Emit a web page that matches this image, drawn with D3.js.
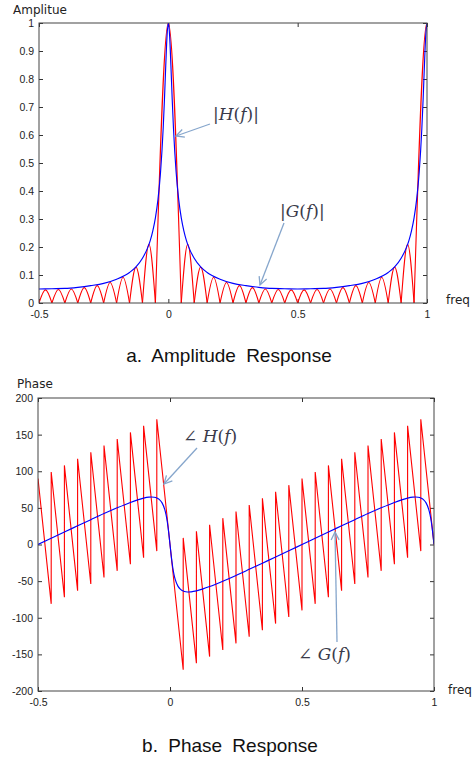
<!DOCTYPE html>
<meta charset="utf-8">
<title>Amplitude and Phase Response</title>
<style>
body { margin: 0; background: #fff; }
.axis text { font-family: "Liberation Sans", Arial, sans-serif; font-size: 10.5px; fill: #222; }
.axis line { stroke: #333; }
.frame { fill: none; stroke: #444; stroke-width: 1; }
.lab { font-family: "DejaVu Sans", Verdana, sans-serif; font-size: 12px; fill: #222; }
.cap { font-family: "Liberation Sans", Arial, sans-serif; font-size: 19px; fill: #111; word-spacing: 5px; }
.note { font-family: "DejaVu Serif", "Liberation Serif", serif; font-size: 17px; fill: #3a3a4a; }
.arrow { stroke: #86a6cc; stroke-width: 1.3; fill: none; }
</style>
<body>
<svg width="475" height="757"></svg>
<script src="https://d3js.org/d3.v7.min.js"></script>
<script>

// frequency grid for H(f)
var freq = [-0.5, -0.45, -0.4, -0.35, -0.3, -0.25, -0.2, -0.15, -0.125, -0.1, -0.08, -0.07, -0.06, -0.05, -0.04, -0.03, -0.02, -0.015, -0.01, -0.005,
            0, 0.005, 0.01, 0.015, 0.02, 0.03, 0.04, 0.05, 0.06, 0.07, 0.08, 0.1, 0.125, 0.15, 0.2, 0.25, 0.3, 0.35, 0.4, 0.45, 0.5,
            0.55, 0.6, 0.65, 0.7, 0.75, 0.8, 0.85, 0.875, 0.9, 0.92, 0.93, 0.94, 0.95, 0.96, 0.97, 0.98, 0.985, 0.99, 0.995, 1];

// |H(f)|
var ampH = [0.050, 0.051, 0.052, 0.056, 0.062, 0.070, 0.085, 0.109, 0.129, 0.160, 0.197, 0.223, 0.258, 0.304, 0.370, 0.469, 0.622, 0.727, 0.847, 0.954,
            1, 0.954, 0.847, 0.727, 0.622, 0.469, 0.370, 0.304, 0.258, 0.223, 0.197, 0.160, 0.129, 0.109, 0.085, 0.070, 0.062, 0.056, 0.052, 0.051, 0.050,
            0.051, 0.052, 0.056, 0.062, 0.070, 0.085, 0.109, 0.129, 0.160, 0.197, 0.223, 0.258, 0.304, 0.370, 0.469, 0.622, 0.727, 0.847, 0.954, 1];

// angle H(f), degrees
var phaseH = [0, 8.6, 17.1, 25.5, 33.9, 42.2, 50.1, 57.4, 60.6, 63.3, 64.6, 64.8, 64.5, 63.5, 61.3, 56.8, 48.0, 40.7, 30.4, 16.6,
              0, -16.6, -30.4, -40.7, -48.0, -56.8, -61.3, -63.5, -64.5, -64.8, -64.6, -63.3, -60.6, -57.4, -50.1, -42.2, -33.9, -25.5, -17.1, -8.6, 0,
              8.6, 17.1, 25.5, 33.9, 42.2, 50.1, 57.4, 60.6, 63.3, 64.6, 64.8, 64.5, 63.5, 61.3, 56.8, 48.0, 40.7, 30.4, 16.6, 0];

// G(f): lobe edges (zeros), lobe heights, phase at start / end of each lobe
var lobeEdges = [-0.5, -0.45, -0.4, -0.35, -0.3, -0.25, -0.2, -0.15, -0.1, -0.05,
                 0.05, 0.1, 0.15, 0.2, 0.25, 0.3, 0.35, 0.4, 0.45, 0.5, 0.55, 0.6, 0.65, 0.7, 0.75, 0.8, 0.85, 0.9, 0.95, 1];
var lobePeaks = [0.047, 0.048, 0.050, 0.055, 0.062, 0.073, 0.092, 0.128, 0.21,
                 1,
                 0.21, 0.128, 0.092, 0.073, 0.062, 0.055, 0.050, 0.048, 0.047, 0.047, 0.048, 0.050, 0.055, 0.062, 0.073, 0.092, 0.128, 0.21,
                 1];
var phaseStart = [90, 99, 108, 117, 126, 135, 144, 153, 162,
                  171,
                  9, 18, 27, 36, 45, 54, 63, 72, 81, 90, 99, 108, 117, 126, 135, 144, 153, 162,
                  171];
var phaseEnd = [-81, -72, -63, -54, -45, -36, -27, -18, -9,
                -171,
                -162, -153, -144, -135, -126, -117, -108, -99, -90, -81, -72, -63, -54, -45, -36, -27, -18, -9,
                0];

var xTicks = [-0.5, 0, 0.5, 1];
var ampTicks = [0, 0.1, 0.2, 0.3, 0.4, 0.5, 0.6, 0.7, 0.8, 0.9, 1];
var phaseTicks = [-200, -150, -100, -50, 0, 50, 100, 150, 200];

var svg = d3.select("svg");
svg.append("rect").attr("width", 475).attr("height", 757).attr("fill", "#fff");

var defs = svg.append("defs");
defs.append("marker")
    .attr("id", "head")
    .attr("viewBox", "0 0 10 10")
    .attr("refX", 9).attr("refY", 5)
    .attr("markerWidth", 10).attr("markerHeight", 10)
    .attr("markerUnits", "userSpaceOnUse")
    .attr("orient", "auto")
  .append("path")
    .attr("d", "M1,1 L9,5 L1,9")
    .attr("fill", "none")
    .attr("stroke", "#86a6cc")
    .attr("stroke-width", 1.3);

function panel(id, xr, yr, yDomain, yTicks) {
  var x = d3.scaleLinear().domain([-0.5, 1]).range(xr);
  var y = d3.scaleLinear().domain(yDomain).range(yr);

  defs.append("clipPath").attr("id", id)
    .append("rect")
      .attr("x", xr[0]).attr("y", yr[1])
      .attr("width", xr[1] - xr[0]).attr("height", yr[0] - yr[1]);

  var g = svg.append("g");

  g.append("g").attr("class", "axis")
      .attr("transform", "translate(0," + yr[0] + ")")
      .call(d3.axisBottom(x).tickValues(xTicks).tickFormat(String).tickSizeInner(-4).tickSizeOuter(0).tickPadding(8));
  g.append("g").attr("class", "axis")
      .attr("transform", "translate(0," + yr[1] + ")")
      .call(d3.axisTop(x).tickValues(xTicks).tickFormat("").tickSizeInner(-4).tickSizeOuter(0));
  g.append("g").attr("class", "axis")
      .attr("transform", "translate(" + xr[0] + ",0)")
      .call(d3.axisLeft(y).tickValues(yTicks).tickFormat(String).tickSizeInner(-4).tickSizeOuter(0).tickPadding(5));
  g.append("g").attr("class", "axis")
      .attr("transform", "translate(" + xr[1] + ",0)")
      .call(d3.axisRight(y).tickValues(yTicks).tickFormat("").tickSizeInner(-4).tickSizeOuter(0));
  g.selectAll(".domain").remove();

  var plot = g.append("g").attr("clip-path", "url(#" + id + ")");

  g.append("rect").attr("class", "frame")
      .attr("x", xr[0]).attr("y", yr[1])
      .attr("width", xr[1] - xr[0]).attr("height", yr[0] - yr[1]);

  return {x: x, y: y, plot: plot};
}

// ---- amplitude ----
var A = panel("clipA", [39, 427], [303, 23], [0, 1], ampTicks);

var lobeLine = d3.line()
    .x(function(d) { return A.x(d[0]); })
    .y(function(d) { return A.y(d[1]); })
    .curve(d3.curveNatural);

lobePeaks.forEach(function(p, i) {
  var e0 = lobeEdges[i], e1 = lobeEdges[i + 1];
  var pts = (i === lobePeaks.length - 1)
      ? [[e0, 0], [e1, p], [2 * e1 - e0, 0]]
      : [[e0, 0], [(e0 + e1) / 2, p], [e1, 0]];
  A.plot.append("path")
      .attr("d", lobeLine(pts))
      .attr("fill", "none")
      .attr("stroke", "#ff0000")
      .attr("stroke-width", 1.1);
});

A.plot.append("path")
    .datum(freq)
    .attr("fill", "none")
    .attr("stroke", "#0000ff")
    .attr("stroke-width", 1.15)
    .attr("d", d3.line()
        .x(function(d) { return A.x(d); })
        .y(function(d, i) { return A.y(ampH[i]); })
        .curve(d3.curveMonotoneX));

// ---- phase ----
var P = panel("clipP", [38, 434], [691, 398], [-200, 200], phaseTicks);

var saw = [];
phaseStart.forEach(function(s, i) {
  saw.push([lobeEdges[i], s]);
  saw.push([lobeEdges[i + 1], phaseEnd[i]]);
});

P.plot.append("path")
    .datum(saw)
    .attr("fill", "none")
    .attr("stroke", "#ff0000")
    .attr("stroke-width", 1.1)
    .attr("d", d3.line()
        .x(function(d) { return P.x(d[0]); })
        .y(function(d) { return P.y(d[1]); }));

P.plot.append("path")
    .datum(freq)
    .attr("fill", "none")
    .attr("stroke", "#0000ff")
    .attr("stroke-width", 1.15)
    .attr("d", d3.line()
        .x(function(d) { return P.x(d); })
        .y(function(d, i) { return P.y(phaseH[i]); })
        .curve(d3.curveMonotoneX));

// ---- labels ----
svg.append("text").attr("class", "lab").attr("x", 13).attr("y", 14).text("Amplitue");
svg.append("text").attr("class", "lab").attr("x", 446).attr("y", 304).text("freq");
svg.append("text").attr("class", "lab").attr("x", 17).attr("y", 388).text("Phase");
svg.append("text").attr("class", "lab").attr("x", 448).attr("y", 694).text("freq");

svg.append("text").attr("class", "cap").attr("x", 229).attr("y", 362).attr("text-anchor", "middle").text("a. Amplitude Response");
svg.append("text").attr("class", "cap").attr("x", 230).attr("y", 752).attr("text-anchor", "middle").text("b. Phase Response");

// annotations
function note(x, y, prefix, letter) {
  var t = svg.append("text").attr("class", "note").attr("x", x).attr("y", y);
  t.append("tspan").text(prefix);
  t.append("tspan").attr("font-style", "italic").text(letter);
  t.append("tspan").text("(");
  t.append("tspan").attr("font-style", "italic").text("f");
  t.append("tspan").text(")");
  if (prefix === "|") t.append("tspan").text("|");
}
function arrow(x1, y1, x2, y2) {
  svg.append("line").attr("class", "arrow")
      .attr("x1", x1).attr("y1", y1).attr("x2", x2).attr("y2", y2)
      .attr("marker-end", "url(#head)");
}

note(213, 120, "|", "H");
arrow(210, 124, 176, 136);
note(280, 217, "|", "G");
arrow(284, 223, 260, 285);
note(183, 442, "\u2220 ", "H");
arrow(197, 448, 164, 484);
note(298, 660, "\u2220 ", "G");
arrow(337, 642, 335, 532);

</script>
</body>
